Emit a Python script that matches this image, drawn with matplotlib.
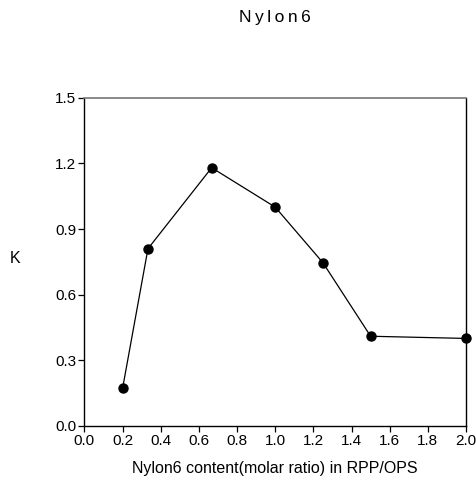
import matplotlib
matplotlib.use("Agg")
import matplotlib.pyplot as plt

# Nylon6 content (molar ratio) and K values
content = [0.2, 0.333, 0.667, 1.0, 1.25, 1.5, 2.0]
k_values = [0.172, 0.81, 1.18, 1.0, 0.746, 0.41, 0.40]

x_ticks = [0.0, 0.2, 0.4, 0.6, 0.8, 1.0, 1.2, 1.4, 1.6, 1.8, 2.0]
y_ticks = [0.0, 0.3, 0.6, 0.9, 1.2, 1.5]

plt.rcParams['font.family'] = ['Liberation Sans', 'DejaVu Sans']

fig = plt.figure(figsize=(4.77, 4.86), dpi=100)
ax = fig.add_axes([0.177, 0.1235, 0.8, 0.6755])

ax.plot(content, k_values, '-', color='black', lw=0.9,
        marker='o', markersize=6.5, markerfacecolor='black', clip_on=False)

ax.set_xlim(0, 2.0)
ax.set_ylim(0, 1.5)
ax.set_xticks(x_ticks)
ax.set_yticks(y_ticks)
ax.set_xticklabels([f"{t:.1f}" for t in x_ticks])
ax.set_yticklabels([f"{t:.1f}" for t in y_ticks])
ax.tick_params(direction='out', length=4, width=0.9, labelsize=11, pad=2)

for side in ['left', 'bottom', 'right']:
    ax.spines[side].set_linewidth(1.0)
    ax.spines[side].set_color('black')
ax.spines['top'].set_color('#777777')
ax.spines['top'].set_linewidth(1.2)

# title drawn with wide letter spacing like the original
fig.text(0.576, 0.965, "\u2009".join("Nylon6"), ha='center', va='center', fontsize=12.5)
fig.text(0.032, 0.469, "K", ha='center', va='center', fontsize=11.5)
ax.set_xlabel("Nylon6 content(molar ratio) in RPP/OPS", fontsize=11.5, labelpad=9)

fig.savefig("out.png", dpi=100)
